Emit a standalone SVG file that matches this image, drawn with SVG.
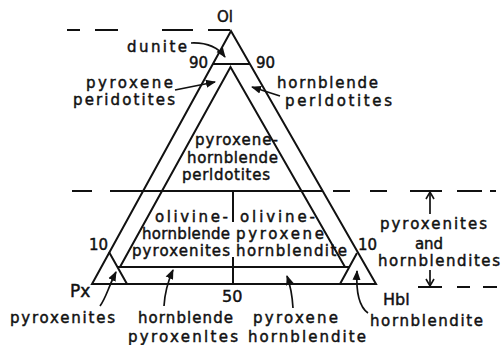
<svg xmlns="http://www.w3.org/2000/svg" width="502" height="345" viewBox="0 0 502 345">
<style>
.ln{fill:none;stroke:#111;stroke-width:2;stroke-linecap:butt}
.ar{fill:none;stroke:#111;stroke-width:1.7}
text{font-family:"DejaVu Sans","Liberation Sans",sans-serif;font-size:15px;fill:#111;stroke:#111;stroke-width:0.45}
.dg{font-size:15px}
</style>
<defs>
<marker id="head" markerWidth="10" markerHeight="9" refX="9" refY="4.5" orient="auto" markerUnits="userSpaceOnUse">
<path d="M0,0.5 L10,4.5 L0,8.5 Z" fill="#111"/>
</marker>
<marker id="open" markerWidth="10" markerHeight="10" refX="8" refY="5" orient="auto" markerUnits="userSpaceOnUse">
<path d="M1,1 L8,5 L1,9" fill="none" stroke="#111" stroke-width="1.6"/>
</marker>
</defs>
<rect width="502" height="345" fill="#fff"/>
<g id="frame">
<polygon class="ln" points="231,31 92,284 376,284"/>
<path class="ln" d="M213,64 H250"/>
<path class="ln" d="M120,267 L230.5,67 L345,267"/>
<path class="ln" d="M110,191 H322"/>
<path class="ln" d="M117,267 H349"/>
<path class="ln" d="M233,191 V222 M233,257 V284"/>
<path class="ln" d="M109,252 L127,284 M357,253 L340,284"/>
</g>
<g id="dashes">
<path class="ln" d="M67,30 H80 M95,30 H118 M162,30 H193 M208,30 H230"/>
<path class="ln" d="M72,191 H92"/>
<path class="ln" d="M333,191 H350 M370,191 H387 M410,191 H442 M457,191 H482 M490,191 H496"/>
<path class="ln" d="M418,287 H442 M457,287 H470 M483,287 H497"/>
</g>
<g id="corners">
<text x="217" y="22">Ol</text>
<text x="70" y="297" style="font-size:17px">Px</text>
<text x="383" y="305" style="font-size:16px">Hbl</text>
<text class="dg" x="189" y="68">90</text>
<text class="dg" x="256" y="68">90</text>
<text class="dg" x="89" y="250">10</text>
<text class="dg" x="358" y="250">10</text>
<text x="222" y="302" style="font-size:16px">50</text>
</g>
<g id="dunite"><text x="127" y="52" textLength="60" lengthAdjust="spacing">dunite</text></g>
<g id="pyroxene-peridotites">
<text x="86" y="88" textLength="87" lengthAdjust="spacing">pyroxene</text>
<text x="73" y="105" textLength="102" lengthAdjust="spacing">peridotites</text>
</g>
<g id="hornblende-peridotites">
<text x="277" y="88" textLength="101" lengthAdjust="spacing">hornblende</text>
<text x="285" y="106" textLength="107" lengthAdjust="spacing">perldotites</text>
</g>
<g id="pyroxene-hornblende-peridotites">
<text x="195" y="145" textLength="83" lengthAdjust="spacing">pyroxene-</text>
<text x="187" y="163" textLength="91" lengthAdjust="spacing">hornblende</text>
<text x="182" y="180" textLength="88" lengthAdjust="spacing">perldotites</text>
</g>
<g id="olivine-hornblende-pyroxenites">
<text x="155" y="222" textLength="73" lengthAdjust="spacing">olivine-</text>
<text x="142" y="239" textLength="88" lengthAdjust="spacing">hornblende</text>
<text x="132" y="256" textLength="98" lengthAdjust="spacing">pyroxenites</text>
</g>
<g id="olivine-pyroxene-hornblendite">
<text x="240" y="222" textLength="75" lengthAdjust="spacing">olivine-</text>
<text x="236" y="239" textLength="88" lengthAdjust="spacing">pyroxene</text>
<text x="236" y="256" textLength="111" lengthAdjust="spacing">hornblendite</text>
</g>
<g id="pyroxenites-and-hornblendites">
<text x="380" y="229" textLength="107" lengthAdjust="spacing">pyroxenites</text>
<text x="415" y="249" textLength="28" lengthAdjust="spacing">and</text>
<text x="378" y="266" textLength="122" lengthAdjust="spacing">hornblendites</text>
</g>
<g id="pyroxenites"><text x="10" y="323" textLength="105" lengthAdjust="spacing">pyroxenites</text></g>
<g id="hornblende-pyroxenites">
<text x="138" y="323" textLength="95" lengthAdjust="spacing">hornblende</text>
<text x="128" y="342" textLength="110" lengthAdjust="spacing">pyroxenltes</text>
</g>
<g id="pyroxene-hornblendite">
<text x="253" y="323" textLength="85" lengthAdjust="spacing">pyroxene</text>
<text x="248" y="342" textLength="118" lengthAdjust="spacing">hornblendite</text>
</g>
<g id="hornblendite"><text x="370" y="326" textLength="113" lengthAdjust="spacing">hornblendite</text></g>
<g id="connectors">
<path class="ar" marker-end="url(#head)" d="M191,43 Q214,42 225,57"/>
<path class="ar" marker-end="url(#head)" d="M175,90 L215,82"/>
<path class="ar" marker-end="url(#head)" d="M280,96 L252,87"/>
<path class="ar" marker-end="url(#head)" d="M100,306 C106,298 108,288 116,272"/>
<path class="ar" marker-end="url(#head)" d="M164,306 Q165,288 173,270"/>
<path class="ar" marker-end="url(#head)" d="M293,308 Q292,290 287,276"/>
<path class="ar" marker-end="url(#head)" d="M368,313 C358,306 356,290 357,271"/>
<path class="ar" marker-end="url(#open)" d="M430,214 V192"/>
<path class="ar" marker-end="url(#open)" d="M430,270 V286"/>
</g>
</svg>
